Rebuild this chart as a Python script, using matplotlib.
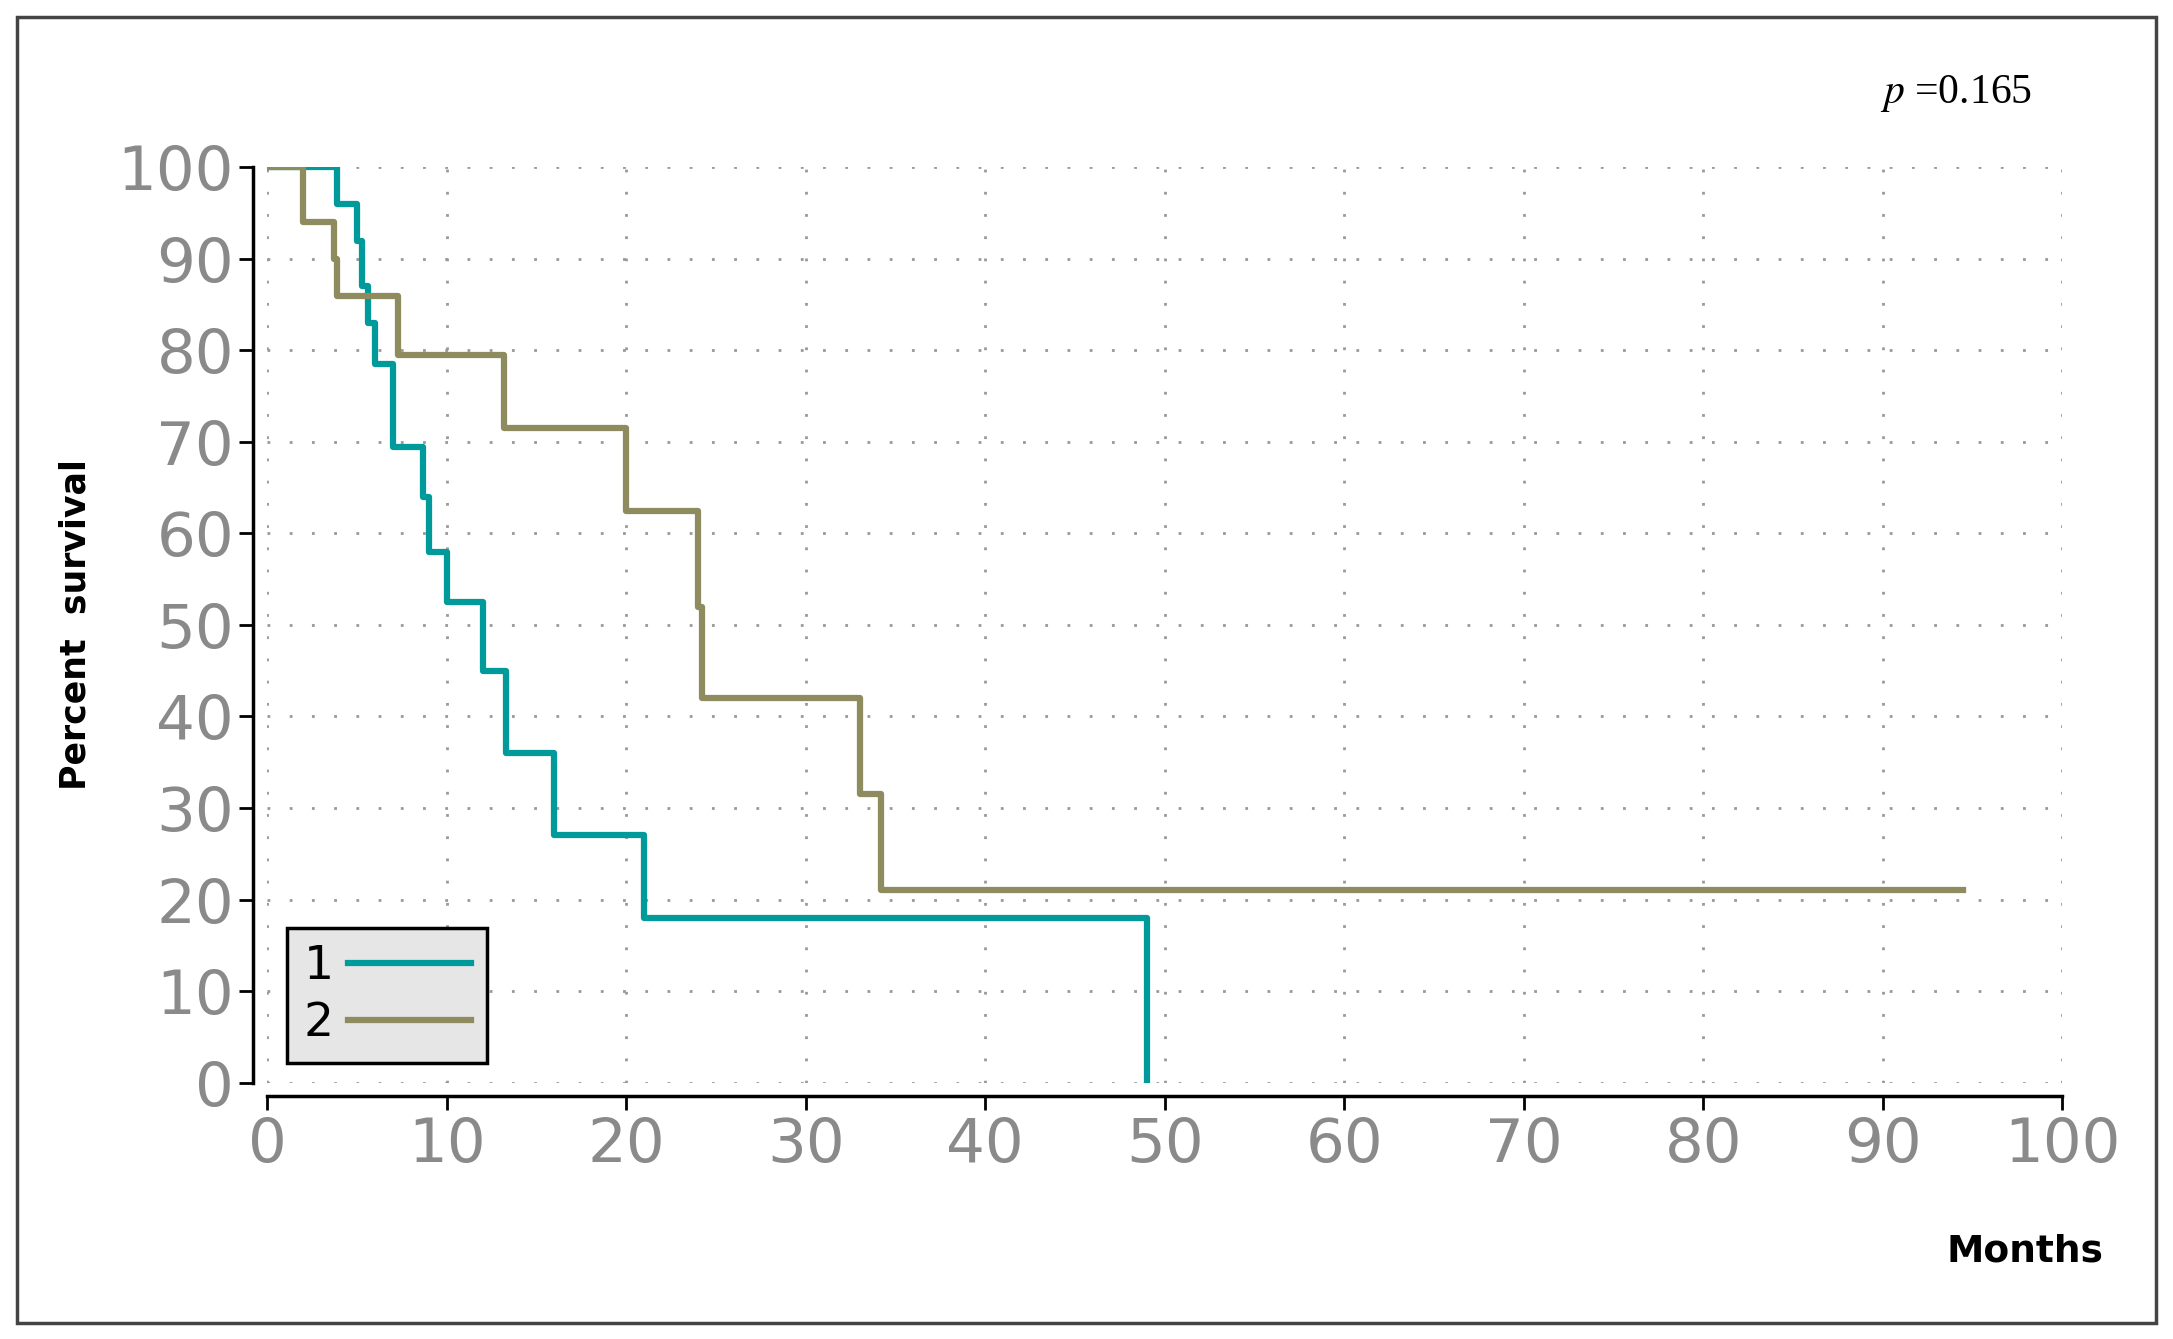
import matplotlib
matplotlib.use("Agg")
import matplotlib.pyplot as plt
from matplotlib.patches import Rectangle

# Kaplan-Meier step data (months, percent survival)
g1_time = [0, 3.9, 5.0, 5.3, 5.6, 6.0, 7.0, 8.7, 9.0, 10.0, 12.0, 13.3, 16.0, 21.0, 49.0]
g1_surv = [100, 96, 92, 87, 83, 78.5, 69.5, 64, 58, 52.5, 45, 36, 27, 18, 0]
g2_time = [0, 2.0, 3.7, 3.9, 7.3, 13.2, 20.0, 24.0, 24.2, 33.0, 34.2, 94.5]
g2_surv = [100, 94, 90, 86, 79.5, 71.5, 62.5, 52, 42, 31.5, 21, 21]
group_labels = ["1", "2"]
x_ticks = list(range(0, 101, 10))
y_ticks = list(range(0, 101, 10))

TEAL = "#009a9a"
OLIVE = "#8e8c5e"
TICK_GRAY = "#8a8a8a"
NARROW = ["Liberation Sans Narrow", "DejaVu Sans"]

fig = plt.figure(figsize=(21.73, 13.39), dpi=100)
fig.patches.append(Rectangle((0.008, 0.012), 0.984, 0.975, transform=fig.transFigure,
                             fill=False, edgecolor="#444444", linewidth=2.5))
ax = fig.add_axes([0.123, 0.1915, 0.826, 0.6835])

l1, = ax.step(g1_time, g1_surv, where="post", color=TEAL, linewidth=4.5, zorder=3)
l2, = ax.step(g2_time, g2_surv, where="post", color=OLIVE, linewidth=4.5, zorder=3)

ax.set_xlim(0, 100)
ax.set_ylim(0, 100)
ax.set_xticks(x_ticks)
ax.set_yticks(y_ticks)
ax.tick_params(axis="both", length=10, width=2, color="black", pad=4,
               labelsize=44, labelcolor=TICK_GRAY)
for lab in ax.get_xticklabels() + ax.get_yticklabels():
    lab.set_family(NARROW)
ax.grid(True, linestyle=(0, (1, 7)), color="#999999", linewidth=2)

for side in ("top", "right"):
    ax.spines[side].set_visible(False)
for side in ("left", "bottom"):
    ax.spines[side].set_position(("outward", 10))
    ax.spines[side].set_linewidth(2.5)

ax.set_ylabel("Percent  survival", fontsize=25, fontweight="bold", labelpad=18)
fig.text(0.968, 0.065, "Months", ha="right", va="center", fontsize=27, fontweight="bold")
fig.text(0.935, 0.93, r"$p$ =0.165", ha="right", va="center", fontsize=30,
         family="Liberation Serif", math_fontfamily="stix")

leg = ax.legend([l1, l2], group_labels, loc="lower left", bbox_to_anchor=(-0.002, -0.004),
                handlelength=2.6, fontsize=30, frameon=True, fancybox=False,
                borderpad=0.35, labelspacing=0.25, handletextpad=0.3,
                markerfirst=False, prop={"family": NARROW, "size": 34})
frame = leg.get_frame()
frame.set_facecolor("#e6e6e6")
frame.set_edgecolor("black")
frame.set_linewidth(2.5)
frame.set_alpha(1)
leg.set_zorder(5)

fig.savefig("out.png", dpi=100)
